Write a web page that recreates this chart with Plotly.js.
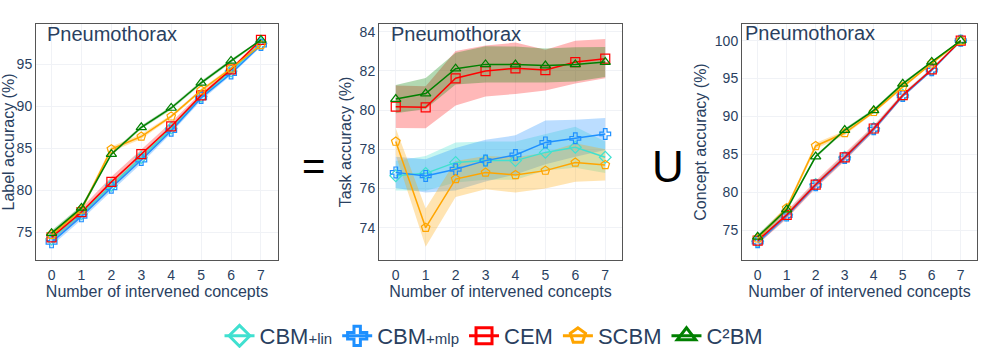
<!DOCTYPE html>
<html><head><meta charset="utf-8">
<script src="https://cdn.plot.ly/plotly-3.0.1.min.js"></script>
<style>body{margin:0;padding:0;background:#fff}#chart{width:996px;height:348px}</style>
</head><body><div id="chart"></div>
<script>
const steps = [0,1,2,3,4,5,6,7];
const models = ["CBM<span style='font-size:15px'>+lin</span>","CBM<span style='font-size:15px'>+mlp</span>",'CEM','SCBM','C²BM'];
const colors = ['#40E0D0','#1E90FF','#FF0000','#FFA500','#008000'];
const bandColors = ['rgba(64,224,208,0.3)','rgba(30,144,255,0.3)','rgba(255,0,0,0.28)','rgba(255,165,0,0.3)','rgba(0,128,0,0.3)'];
const symbols = ['diamond-open','cross-open','square-open','pentagon-open','triangle-up-open'];
const panelTitle = 'Pneumothorax';
const yTitles = ['Label accuracy (%)','Task accuracy (%)','Concept accuracy (%)'];
const xTitle = 'Number of intervened concepts';

// Label accuracy
const labelLin  = [74.2,77.2,80.6,83.9,87.4,91.2,94.2,97.5];
const labelMlp  = [73.8,76.9,80.3,83.6,87.1,91.0,93.9,97.3];
const labelCem  = [74.4,77.4,81.0,84.3,87.6,91.3,94.4,97.9];
const labelScbm = [74.7,77.7,84.9,86.4,88.8,91.9,94.5,97.3];
const labelC2bm = [74.9,77.9,84.3,87.5,89.8,92.8,95.4,97.9];
const labelLinSd  = [0.3,0.3,0.3,0.3,0.3,0.2,0.2,0.2];
const labelMlpSd  = [0.4,0.4,0.4,0.4,0.3,0.3,0.2,0.2];
const labelCemSd  = [0.4,0.5,0.6,0.6,0.5,0.3,0.2,0.2];
const labelScbmSd = [0.3,0.3,0.3,0.3,0.2,0.2,0.2,0.2];
const labelC2bmSd = [0.3,0.3,0.2,0.2,0.2,0.2,0.2,0.1];

// Task accuracy
const taskLin  = [76.65,76.77,77.33,77.42,77.42,77.84,78.10,77.59];
const taskMlp  = [76.82,76.64,76.98,77.42,77.71,78.35,78.56,78.78];
const taskCem  = [80.17,80.14,81.62,81.99,82.13,82.04,82.45,82.62];
const taskScbm = [78.39,74.00,76.48,76.81,76.69,76.91,77.32,77.20];
const taskC2bm = [80.56,80.84,82.11,82.33,82.32,82.27,82.33,82.45];
const taskLinSd  = [0.75,0.89,1.02,0.98,0.98,0.93,1.05,0.80];
const taskMlpSd  = [0.80,0.85,1.09,1.06,1.00,1.12,0.94,0.82];
const taskCemSd  = [1.08,1.07,1.39,1.30,1.31,1.04,1.09,1.00];
const taskScbmSd = [0.68,0.98,0.92,0.85,0.90,0.91,0.98,0.80];
const taskC2bmSd = [0.72,0.79,0.81,0.92,0.92,0.87,0.87,0.77];

// Concept accuracy
const concLin  = [73.5,77.0,81.0,84.6,88.4,92.8,96.2,100];
const concMlp  = [73.4,76.9,80.9,84.5,88.3,92.7,96.1,100];
const concCem  = [73.6,77.0,81.0,84.6,88.4,92.8,96.2,100];
const concScbm = [73.9,77.9,86.1,87.8,90.6,93.9,97.0,100];
const concC2bm = [74.1,77.7,84.7,88.2,90.8,94.3,97.2,100];
const concLinSd  = [0.3,0.3,0.3,0.3,0.3,0.2,0.2,0];
const concMlpSd  = [0.3,0.3,0.3,0.3,0.3,0.2,0.2,0];
const concCemSd  = [0.5,0.5,0.5,0.5,0.4,0.3,0.2,0];
const concScbmSd = [0.3,0.3,0.4,0.3,0.2,0.2,0.1,0];
const concC2bmSd = [0.3,0.3,0.2,0.2,0.2,0.2,0.1,0];

const panels = [
  {means:[labelLin,labelMlp,labelCem,labelScbm,labelC2bm], sds:[labelLinSd,labelMlpSd,labelCemSd,labelScbmSd,labelC2bmSd]},
  {means:[taskLin,taskMlp,taskCem,taskScbm,taskC2bm], sds:[taskLinSd,taskMlpSd,taskCemSd,taskScbmSd,taskC2bmSd]},
  {means:[concLin,concMlp,concCem,concScbm,concC2bm], sds:[concLinSd,concMlpSd,concCemSd,concScbmSd,concC2bmSd]}
];

const traces = [];
panels.forEach((p, pi) => {
  const xa = pi === 0 ? 'x' : 'x' + (pi + 1);
  const ya = pi === 0 ? 'y' : 'y' + (pi + 1);
  p.means.forEach((m, mi) => {
    const up = m.map((v, i) => v + p.sds[mi][i]);
    const lo = m.map((v, i) => v - p.sds[mi][i]);
    traces.push({x: steps.concat(steps.slice().reverse()), y: up.concat(lo.slice().reverse()),
      xaxis: xa, yaxis: ya, type: 'scatter', mode: 'lines', fill: 'toself',
      fillcolor: bandColors[mi], line: {width: 0}, showlegend: false, hoverinfo: 'skip'});
  });
  p.means.forEach((m, mi) => {
    traces.push({x: steps, y: m, xaxis: xa, yaxis: ya, type: 'scatter', mode: 'lines+markers',
      line: {color: colors[mi], width: 1.5},
      marker: {symbol: symbols[mi], size: 9, color: colors[mi], line: {width: 1.2, color: colors[mi]}},
      showlegend: false, name: models[mi]});
  });
});
// legend entries
models.forEach((name, mi) => {
  traces.push({x: [null], y: [null], xaxis: 'x', yaxis: 'y', type: 'scatter', mode: 'lines+markers', name: name,
    line: {color: colors[mi], width: 3},
    marker: {symbol: symbols[mi], size: 16, color: colors[mi], line: {width: 3, color: colors[mi]}},
    showlegend: true});
});

const W = 996, H = 348;
const yDom = [1 - 260 / H, 1 - 24 / H];
const fontCol = '#2a3f5f';
function xAx(dom, range, anchor) {
  return {domain: dom, range: range, anchor: anchor, dtick: 1, tick0: 0, showline: true, mirror: true,
    linecolor: '#555', linewidth: 1, gridcolor: '#f0f2f6', zeroline: false, ticks: '', ticklabelstandoff: 2,
    automargin: false,
    tickfont: {size: 14, color: fontCol}, title: {text: xTitle, font: {size: 16, color: fontCol}, standoff: 2}};
}
function yAx(range, dtick, anchor, title) {
  return {domain: yDom, range: range, anchor: anchor, dtick: dtick, showline: true, mirror: true,
    linecolor: '#555', linewidth: 1, gridcolor: '#f0f2f6', zeroline: false, ticks: '', automargin: false,
    tickfont: {size: 14, color: fontCol}, title: {text: title, font: {size: 16, color: fontCol}, standoff: 4}};
}
const layout = {
  width: W, height: H, margin: {l: 0, r: 0, t: 0, b: 0, autoexpand: false},
  paper_bgcolor: '#fff', plot_bgcolor: '#fff',
  font: {family: 'Liberation Sans, Arial, sans-serif', color: fontCol},
  xaxis: xAx([36 / W, 278 / W], [-0.52, 7.57], 'y'),
  yaxis: yAx([71.7, 99.8], 5, 'x', yTitles[0]),
  xaxis2: xAx([379 / W, 622 / W], [-0.56, 7.56], 'y2'),
  yaxis2: yAx([72.35, 84.39], 2, 'x2', yTitles[1]),
  xaxis3: xAx([742 / W, 977 / W], [-0.54, 7.56], 'y3'),
  yaxis3: yAx([71.04, 102.2], 5, 'x3', yTitles[2]),
  showlegend: true,
  legend: {orientation: 'h', x: 0.496, xanchor: 'center', y: 1 - 336 / H, yanchor: 'middle',
    font: {size: 22, color: fontCol}, itemwidth: 30, tracegroupgap: 0},
  annotations: [
    {text: panelTitle, xref: 'paper', yref: 'paper', x: 45 / W, y: 1 - 34 / H, xanchor: 'left', yanchor: 'middle', showarrow: false, font: {size: 20, color: fontCol}},
    {text: panelTitle, xref: 'paper', yref: 'paper', x: 389 / W, y: 1 - 34 / H, xanchor: 'left', yanchor: 'middle', showarrow: false, font: {size: 20, color: fontCol}},
    {text: panelTitle, xref: 'paper', yref: 'paper', x: 743 / W, y: 1 - 33 / H, xanchor: 'left', yanchor: 'middle', showarrow: false, font: {size: 20, color: fontCol}},
    {text: '=', xref: 'paper', yref: 'paper', x: 313 / W, y: 1 - 166 / H, xanchor: 'center', yanchor: 'middle', showarrow: false, font: {size: 40, color: '#000'}},
    {text: 'U', xref: 'paper', yref: 'paper', x: 668 / W, y: 1 - 167 / H, xanchor: 'center', yanchor: 'middle', showarrow: false, font: {size: 44, color: '#000'}}
  ]
};
Plotly.newPlot('chart', traces, layout, {staticPlot: true, displayModeBar: false});
</script></body></html>
